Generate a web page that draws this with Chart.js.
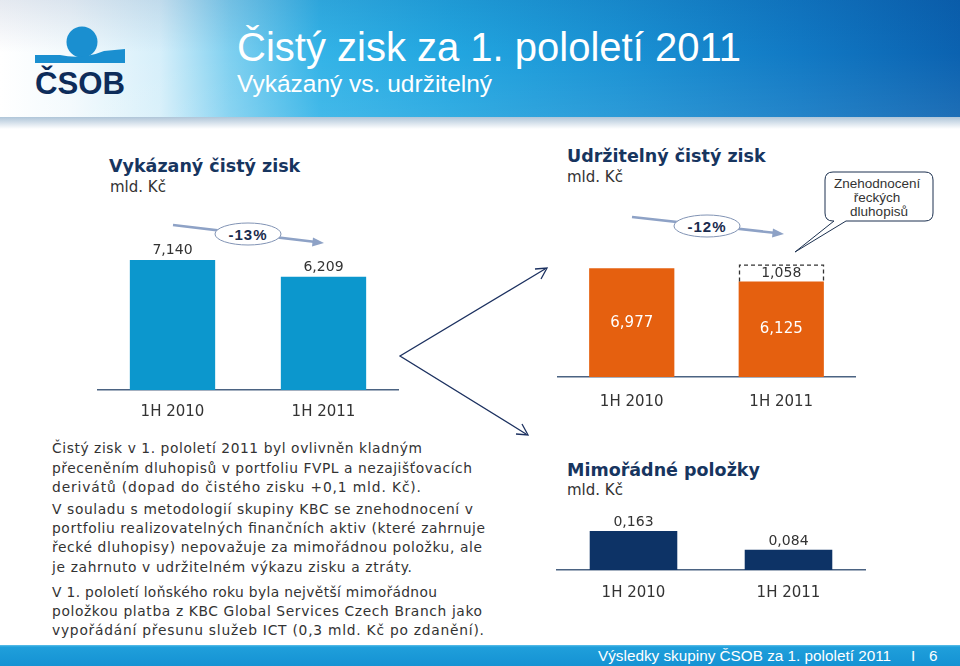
<!DOCTYPE html>
<html><head><meta charset="utf-8">
<script src="https://cdn.jsdelivr.net/npm/chart.js@4.4.0/dist/chart.umd.min.js"></script>
<style>
html,body{margin:0;padding:0;width:960px;height:666px;overflow:hidden;background:#fff;font-family:"DejaVu Sans",Verdana,sans-serif;}
.abs{position:absolute;}
#header{left:0;top:0;width:960px;height:117px;background:linear-gradient(90deg,#ffffff 0px,#f3fafd 70px,#d6effa 160px,#7fd0f0 230px,#33b3e7 320px,#22a6e0 450px,#1a92d4 620px,#1179c4 800px,#0b62b0 960px);}
#hshade{left:0;top:0;width:960px;height:117px;background:linear-gradient(180deg,rgba(0,40,110,0.10) 0%,rgba(255,255,255,0) 45%,rgba(255,255,255,0.08) 100%);}
#hshadow{left:0;top:117px;width:960px;height:12px;background:linear-gradient(180deg,rgba(110,150,185,0.55),rgba(255,255,255,0));}
.arial{font-family:"Liberation Sans",Arial,sans-serif;}
#title{left:237px;top:25px;color:#fff;font-size:40px;white-space:nowrap;}
#subtitle{left:237px;top:70px;color:#fff;font-size:24.5px;white-space:nowrap;}
.ctitle{color:#17355f;font-weight:bold;font-size:17.5px;white-space:nowrap;}
.unit{color:#333;font-size:15px;white-space:nowrap;}
#footer{left:0;top:645px;width:960px;height:21px;background:linear-gradient(180deg,#5fc0ea 0px,#1f9fdb 2px,#1592d3 100%);}
.ftext{top:647px;color:#fff;font-size:15.3px;white-space:nowrap;}
canvas{position:absolute;}
</style></head>
<body>
<div id="header" class="abs"></div>
<div id="hshade" class="abs"></div>
<div id="hshadow" class="abs"></div>
<svg class="abs" style="left:0;top:0" width="960" height="666">
  <!-- logo -->
  <circle cx="82" cy="42" r="15.5" fill="#1a8fd0"/>
  <path d="M35 55 L60 55 Q82 60 104 51 L125 49 L125 63 L35 63 Z" fill="#1a8fd0"/>
  <text x="80" y="94" text-anchor="middle" font-family="Liberation Sans, DejaVu Sans, sans-serif" font-weight="bold" font-size="31" fill="#0d2c5a" textLength="90" lengthAdjust="spacingAndGlyphs">ČSOB</text>
  <!-- trend arrows -->
  <line x1="173" y1="225" x2="316" y2="242" stroke="#8ea2c6" stroke-width="2.6"/>
  <polygon points="324,243 313,237.5 312,246.5" fill="#8ea2c6"/>
  <ellipse cx="248" cy="234" rx="33" ry="11" fill="#fff" stroke="#8294b5" stroke-width="1"/>
  <text x="248" y="239.5" text-anchor="middle" font-family="Liberation Sans, Arial, sans-serif" font-size="15" font-weight="bold" fill="#1a2c4e" letter-spacing="1">-13%</text>
  <line x1="632" y1="217" x2="776" y2="233" stroke="#8ea2c6" stroke-width="2.6"/>
  <polygon points="784,234 773,228.5 772,237.5" fill="#8ea2c6"/>
  <ellipse cx="707" cy="226" rx="33" ry="11" fill="#fff" stroke="#8294b5" stroke-width="1"/>
  <text x="707" y="231.5" text-anchor="middle" font-family="Liberation Sans, Arial, sans-serif" font-size="15" font-weight="bold" fill="#1a2c4e" letter-spacing="1">-12%</text>
  <!-- callout -->
  <path d="M833 172 L925 172 Q933 172 933 180 L933 213 Q933 221 925 221 L846 221 L795 252 L834 221 L833 221 Q825 221 825 213 L825 180 Q825 172 833 172 Z" fill="#fff" stroke="#1c3150" stroke-width="1"/>
  <text font-family="Liberation Sans, Arial, sans-serif" font-size="13.5" fill="#333" text-anchor="middle">
    <tspan x="879" y="188">Znehodnocení</tspan>
    <tspan x="879" y="202">řeckých</tspan>
    <tspan x="879" y="216">dluhopisů</tspan>
  </text>
  <!-- big V arrows -->
  <polyline points="545,269 400,356 526,434" fill="none" stroke="#1c3160" stroke-width="1.3"/>
  <polyline points="535,269 547,268 541,279" fill="none" stroke="#1c3160" stroke-width="1.3"/>
  <polyline points="516,434 528,435 522,424" fill="none" stroke="#1c3160" stroke-width="1.3"/>
  <!-- body text -->
  <g font-family="DejaVu Sans, Verdana, sans-serif" font-size="13.8" fill="#333" lengthAdjust="spacing">
    <text x="52" y="453" textLength="370">Čistý zisk v 1. pololetí 2011 byl ovlivněn kladným</text>
    <text x="52" y="473" textLength="420">přeceněním dluhopisů v portfoliu FVPL a nezajišťovacích</text>
    <text x="52" y="492" textLength="369">derivátů (dopad do čistého zisku +0,1 mld. Kč).</text>
    <text x="52" y="514" textLength="421">V souladu s metodologií skupiny KBC se znehodnocení v</text>
    <text x="52" y="533" textLength="433">portfoliu realizovatelných finančních aktiv (které zahrnuje</text>
    <text x="52" y="552" textLength="430">řecké dluhopisy) nepovažuje za mimořádnou položku, ale</text>
    <text x="52" y="572" textLength="360">je zahrnuto v udržitelném výkazu zisku a ztráty.</text>
    <text x="52" y="597" textLength="385">V 1. pololetí loňského roku byla největší mimořádnou</text>
    <text x="52" y="616" textLength="430">položkou platba z KBC Global Services Czech Branch jako</text>
    <text x="52" y="635" textLength="432">vypořádání přesunu služeb ICT (0,3 mld. Kč po zdanění).</text>
  </g>
</svg>
<div id="title" class="abs arial">Čistý zisk za 1. pololetí 2011</div>
<div id="subtitle" class="abs arial">Vykázaný vs. udržitelný</div>

<div class="abs ctitle" style="left:109px;top:156px;">Vykázaný čistý zisk</div>
<div class="abs unit" style="left:110px;top:178px;">mld. Kč</div>
<div class="abs ctitle" style="left:567px;top:146px;">Udržitelný čistý zisk</div>
<div class="abs unit" style="left:567px;top:168px;">mld. Kč</div>
<div class="abs ctitle" style="left:567px;top:460px;">Mimořádné položky</div>
<div class="abs unit" style="left:567px;top:481px;">mld. Kč</div>

<div id="footer" class="abs"></div>
<div class="abs ftext arial" style="left:598px;">Výsledky skupiny ČSOB za 1. pololetí 2011</div>
<div class="abs ftext arial" style="left:911px;">I</div>
<div class="abs ftext arial" style="left:929px;">6</div>

<canvas id="c1" width="302" height="243" style="left:97px;top:191px;"></canvas>
<canvas id="c2" width="299" height="246" style="left:557px;top:181px;"></canvas>
<canvas id="c3" width="310" height="114" style="left:556px;top:502px;"></canvas>

<script>
// ---- data ----
const periods = ["1H 2010", "1H 2011"];
const reportedProfit = [7.140, 6.209];
const sustainableProfit = [6.977, 6.125];
const greekImpairment = [null, 1.058];
const extraordinaryItems = [0.163, 0.084];

const fmt = v => v.toFixed(3).replace('.', ',');

const valueLabels = {
  id: 'valueLabels',
  afterDatasetsDraw(chart, args, opts) {
    const ctx = chart.ctx;
    ctx.save();
    (opts.items || []).forEach(o => {
      const ds = chart.data.datasets[o.ds];
      const meta = chart.getDatasetMeta(o.ds);
      meta.data.forEach((bar, i) => {
        const v = ds.data[i];
        if (v == null) return;
        ctx.font = o.font;
        ctx.fillStyle = o.color;
        ctx.textAlign = 'center';
        if (o.dashed) {
          ctx.save();
          ctx.strokeStyle = '#333';
          ctx.lineWidth = 1.3;
          ctx.setLineDash([4, 3]);
          const l = Math.round(bar.x - bar.width / 2) + 0.5, r = Math.round(bar.x + bar.width / 2) - 0.5;
          ctx.beginPath();
          ctx.moveTo(l, bar.base); ctx.lineTo(l, bar.y); ctx.lineTo(r, bar.y); ctx.lineTo(r, bar.base);
          ctx.stroke();
          ctx.restore();
        }
        if (o.pos === 'top') {
          ctx.textBaseline = 'alphabetic';
          ctx.fillText(fmt(v), bar.x, bar.y - o.offset);
        } else {
          ctx.textBaseline = 'middle';
          ctx.fillText(fmt(v), bar.x, (bar.y + bar.base) / 2 + (o.offset || 0));
        }
      });
    });
    ctx.restore();
  }
};

function xAxis(pad) {
  return {
    stacked: true,
    grid: { display: false, drawTicks: false },
    border: { display: true, color: '#4b6382', width: 1.5 },
    ticks: { color: '#333', font: { family: 'DejaVu Sans', size: 15 }, padding: pad }
  };
}
function base(max, labelsCfg, pad) {
  return {
    responsive: false, animation: false, devicePixelRatio: 1,
    layout: { padding: 0 },
    plugins: { legend: { display: false }, tooltip: { enabled: false }, valueLabels: { items: labelsCfg } },
    scales: { x: xAxis(pad), y: { display: false, stacked: true, min: 0, max: max } }
  };
}

new Chart(document.getElementById('c1'), {
  type: 'bar',
  data: { labels: periods, datasets: [{ data: reportedProfit, backgroundColor: '#0c97cd', categoryPercentage: 1, barPercentage: 0.565 }] },
  options: base(10.92, [{ ds: 0, pos: 'top', offset: 6, font: '14px "DejaVu Sans"', color: '#333' }], 13),
  plugins: [valueLabels]
});

new Chart(document.getElementById('c2'), {
  type: 'bar',
  data: { labels: periods, datasets: [
    { data: sustainableProfit, backgroundColor: '#e5600f', categoryPercentage: 1, barPercentage: 0.57 },
    { data: greekImpairment, backgroundColor: 'rgba(255,255,255,0)', categoryPercentage: 1, barPercentage: 0.57 }
  ] },
  options: base(12.58, [
    { ds: 0, pos: 'center', font: '15px "DejaVu Sans"', color: '#fff' },
    { ds: 1, pos: 'center', font: '14px "DejaVu Sans"', color: '#333', dashed: true }
  ], 16),
  plugins: [valueLabels]
});

new Chart(document.getElementById('c3'), {
  type: 'bar',
  data: { labels: periods, datasets: [{ data: extraordinaryItems, backgroundColor: '#0d3366', categoryPercentage: 1, barPercentage: 0.565 }] },
  options: base(0.2834, [{ ds: 0, pos: 'top', offset: 5, font: '14px "DejaVu Sans"', color: '#333' }], 14),
  plugins: [valueLabels]
});
</script>
</body></html>
